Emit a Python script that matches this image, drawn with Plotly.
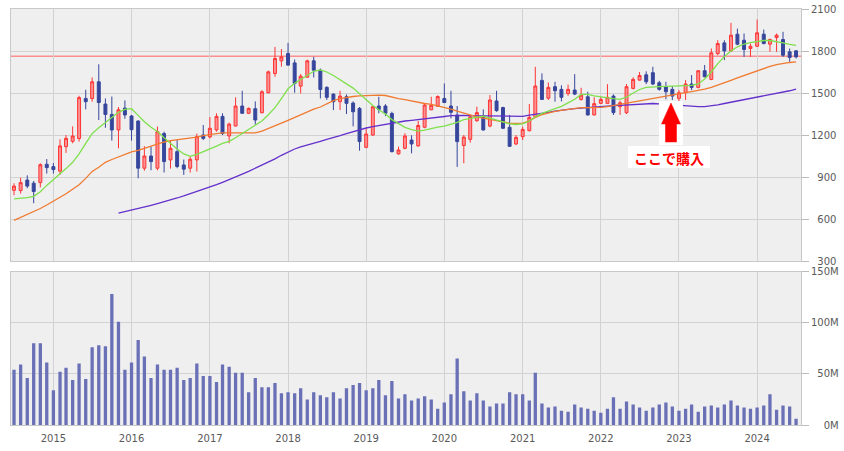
import pandas as pd
import plotly.graph_objects as go

# ---------------- data (monthly, Jul 2014 - Jul 2024) ----------------
DATES = pd.date_range("2014-07-01", periods=121, freq="MS")

OPEN = [805, 803, 878, 856, 860, 991, 974, 942, 1117, 1155, 1175, 1461, 1461, 1580, 1421, 1347, 1236, 1392, 1336, 1300,
        963, 1050, 963, 1210, 1022, 1081, 986, 963, 1022, 1200, 1186, 1236, 1333, 1193, 1264, 1407, 1355, 1388, 1359, 1502,
        1639, 1730, 1782, 1715, 1549, 1613, 1730, 1663, 1540, 1492, 1438, 1473, 1428, 1390, 1112, 1200, 1407, 1407, 1354, 1065,
        1105, 1164, 1122, 1255, 1380, 1405, 1461, 1407, 1343, 1125, 1169, 1302, 1335, 1264, 1443, 1396, 1255, 1136, 1188, 1231,
        1330, 1590, 1463, 1545, 1526, 1497, 1521, 1454, 1473, 1343, 1426, 1426, 1478, 1402, 1359, 1533, 1592, 1630, 1645, 1573,
        1545, 1526, 1462, 1502, 1564, 1540, 1659, 1597, 1782, 1858, 1801, 1920, 1877, 1818, 1834, 1920, 1849, 1896, 1882, 1794,
        1801]
HIGH = [855, 895, 912, 872, 998, 1028, 1000, 1169, 1200, 1262, 1480, 1523, 1611, 1705, 1461, 1475, 1400, 1447, 1343, 1305,
        1120, 1117, 1260, 1224, 1164, 1164, 1025, 1046, 1210, 1271, 1328, 1355, 1355, 1288, 1469, 1516, 1397, 1440, 1520, 1660,
        1829, 1814, 1858, 1739, 1635, 1738, 1758, 1675, 1548, 1497, 1516, 1490, 1440, 1400, 1245, 1407, 1473, 1420, 1366, 1117,
        1212, 1198, 1300, 1428, 1473, 1483, 1568, 1516, 1407, 1200, 1345, 1402, 1383, 1485, 1516, 1402, 1343, 1200, 1260, 1421,
        1687, 1640, 1575, 1580, 1555, 1560, 1635, 1537, 1509, 1470, 1473, 1563, 1490, 1445, 1564, 1612, 1650, 1655, 1687, 1587,
        1580, 1550, 1521, 1592, 1628, 1664, 1700, 1818, 1877, 1877, 2001, 1960, 1925, 1853, 2025, 1953, 1889, 1925, 1937, 1818,
        1806]
LOW = [770, 782, 820, 713, 826, 925, 925, 915, 1072, 1141, 1153, 1383, 1438, 1307, 1252, 1160, 1105, 1316, 1160, 891,
       945, 948, 948, 932, 960, 963, 915, 932, 939, 1164, 1176, 1224, 1200, 1141, 1262, 1352, 1350, 1275, 1355, 1497,
       1616, 1688, 1699, 1502, 1497, 1610, 1611, 1461, 1450, 1378, 1378, 1350, 1262, 1088, 1105, 1193, 1355, 1335, 1076, 1060,
       1098, 1069, 1117, 1248, 1378, 1400, 1428, 1319, 972, 998, 1145, 1295, 1232, 1255, 1366, 1243, 1117, 1128, 1164, 1226,
       1326, 1452, 1450, 1438, 1440, 1480, 1485, 1445, 1340, 1340, 1421, 1424, 1343, 1343, 1350, 1526, 1588, 1563, 1557, 1517,
       1455, 1450, 1438, 1450, 1520, 1533, 1612, 1592, 1770, 1735, 1794, 1842, 1758, 1758, 1830, 1848, 1794, 1794, 1758, 1723,
       1746]
CLOSE = [835, 860, 835, 796, 988, 967, 953, 1122, 1176, 1193, 1467, 1438, 1580, 1432, 1347, 1236, 1380, 1343, 1238, 963,
         1050, 1010, 1224, 1010, 1105, 975, 956, 1027, 1188, 1176, 1248, 1333, 1210, 1278, 1407, 1355, 1390, 1307, 1509, 1651,
         1746, 1758, 1699, 1568, 1620, 1730, 1663, 1525, 1469, 1438, 1478, 1426, 1366, 1153, 1207, 1402, 1383, 1355, 1081, 1093,
         1193, 1136, 1268, 1414, 1412, 1475, 1432, 1362, 1153, 1185, 1330, 1360, 1236, 1450, 1374, 1248, 1119, 1183, 1240, 1326,
         1550, 1454, 1540, 1516, 1469, 1526, 1492, 1485, 1343, 1424, 1454, 1469, 1360, 1430, 1545, 1597, 1625, 1580, 1564, 1526,
         1509, 1478, 1502, 1564, 1540, 1659, 1616, 1787, 1853, 1801, 1913, 1849, 1811, 1834, 1930, 1853, 1882, 1913, 1770, 1754,
         1758]

VOLUME_M = [54, 59, 46, 80, 80, 61, 34, 52, 56, 44, 60, 45, 76, 78, 77, 128, 101, 54, 61, 83,
            67, 46, 59, 54, 54, 56, 44, 46, 60, 48, 48, 42, 59, 57, 51, 51, 32, 46, 37, 37,
            41, 31, 32, 31, 36, 25, 32, 29, 27, 32, 26, 36, 39, 41, 34, 36, 44, 29, 43, 26,
            30, 24, 26, 28, 25, 16, 22, 30, 65, 33, 24, 31, 24, 18, 21, 21, 32, 30, 30, 24,
            51, 21, 17, 18, 14, 13, 20, 17, 16, 14, 12, 16, 27, 16, 23, 20, 17, 14, 17, 20,
            22, 18, 14, 16, 20, 13, 18, 19, 17, 20, 24, 19, 17, 16, 17, 19, 30, 15, 19, 18,
            6]

MA_SHORT = [744, 748, 752, 762, 795, 840, 880, 920, 960, 1005, 1065, 1140, 1210, 1252, 1290, 1330, 1362, 1383, 1388, 1340,
            1295, 1255, 1225, 1180, 1140, 1100, 1065, 1048, 1062, 1080, 1100, 1120, 1140, 1155, 1180, 1210, 1235, 1265, 1300, 1345,
            1395, 1460, 1530, 1570, 1595, 1625, 1655, 1665, 1650, 1625, 1595, 1565, 1535, 1495, 1450, 1410, 1380, 1350, 1310, 1280,
            1255, 1238, 1228, 1235, 1248, 1256, 1264, 1275, 1290, 1310, 1318, 1322, 1335, 1320, 1305, 1290, 1280, 1275, 1280, 1300,
            1330, 1355, 1370, 1385, 1405, 1430, 1455, 1490, 1490, 1480, 1472, 1468, 1460, 1455, 1470, 1500, 1525, 1540, 1545, 1545,
            1548, 1550, 1550, 1552, 1555, 1565, 1600, 1650, 1710, 1760, 1800, 1830, 1850, 1860, 1868, 1875, 1875, 1868, 1858, 1848,
            1840]
MA_MID = [590, 610, 630, 655, 675, 700, 730, 755, 780, 815, 845, 890, 940, 970, 1005, 1025, 1045, 1065, 1080, 1090,
          1105, 1120, 1135, 1150, 1160, 1165, 1170, 1178, 1185, 1195, 1205, 1210, 1215, 1215, 1213, 1212, 1212, 1215, 1228, 1245,
          1265, 1285, 1305, 1325, 1345, 1368, 1385, 1400, 1425, 1445, 1460, 1470, 1475, 1480, 1483, 1485, 1485, 1482, 1470, 1460,
          1452, 1442, 1432, 1425, 1418, 1408, 1395, 1385, 1370, 1355, 1340, 1330, 1320, 1310, 1300, 1290, 1285, 1283, 1285, 1300,
          1325, 1345, 1358, 1368, 1376, 1384, 1390, 1395, 1395, 1395, 1398, 1402, 1410, 1420, 1425, 1433, 1442, 1452, 1462, 1472,
          1482, 1490, 1497, 1503, 1510, 1518, 1527, 1540, 1555, 1572, 1590, 1608, 1625, 1642, 1658, 1674, 1690, 1702, 1712, 1718,
          1723]
MA_LONG = [None] * 16 + [
    642, 652, 663, 675, 687, 698, 710, 722, 735, 750, 765, 780, 800, 815, 830, 845, 862, 880, 900, 920,
    940, 962, 985, 1005, 1030, 1055, 1080, 1100, 1115, 1130, 1142, 1155, 1168, 1180, 1195, 1210, 1225, 1240, 1250, 1260,
    1268, 1278, 1288, 1295, 1300, 1305, 1310, 1312, 1320, 1326, 1332, 1338, 1340, 1340, 1338, 1337, 1336, 1335, 1334, 1333,
    1333, 1333, 1333, 1342, 1350, 1356, 1362, 1370, 1378, 1383, 1388, 1392, 1398, 1402, 1405, 1408, 1410, 1412, 1414, 1418,
    1422, 1425, 1425, 1422, 1418, 1415, 1412, 1408, 1405, 1403, 1403, 1408, 1415, 1425, 1434, 1443, 1452, 1460, 1468, 1476,
    1484, 1494, 1505, 1516, 1527]

REF_PRICE = 1763
PRICE_TICKS = [300, 600, 900, 1200, 1500, 1800, 2100]
VOL_TICKS = [0, 50, 100, 150]
LABEL = "ここで購入"

# ---------------- layout helpers ----------------
W, H = 844, 451
ML, MR, MT, MB = 11, 43, 9, 26
PW, PH = W - ML - MR, H - MT - MB


def fx(px):
    return (px - ML) / PW


def fy(py):
    return (H - MB - py) / PH


FS = "\u2007"  # figure space: digit-wide, keeps labels right-aligned
price_text = [FS * (4 - len(str(v))) + str(v) for v in PRICE_TICKS]
vol_text = [FS * (3 - len(str(v))) + f"{v}M" for v in VOL_TICKS]

GRID = "#d2d2d2"
FRAME = "#c8c8c8"
TICKFONT = dict(family="DejaVu Sans", size=10, color="#5a5a5a")

fig = go.Figure()

fig.add_trace(go.Candlestick(
    x=DATES, open=OPEN, high=HIGH, low=LOW, close=CLOSE,
    xaxis="x", yaxis="y", whiskerwidth=0,
    increasing=dict(line=dict(color="#ff3434", width=1), fillcolor="rgba(255,120,120,0.8)"),
    decreasing=dict(line=dict(color="#36469c", width=1), fillcolor="#36469c"),
    showlegend=False,
))

for vals, col in [(MA_LONG, "#6430cc"), (MA_MID, "#f07a30"), (MA_SHORT, "#7ee04c")]:
    fig.add_trace(go.Scatter(x=DATES, y=vals, mode="lines", xaxis="x", yaxis="y",
                             line=dict(color=col, width=1.3), showlegend=False,
                             connectgaps=False))

fig.add_trace(go.Bar(x=DATES, y=VOLUME_M, xaxis="x2", yaxis="y2",
                     marker=dict(color="#6a70b6", line=dict(width=0)), showlegend=False))

xcommon = dict(type="date", range=["2014-06-17", "2024-07-24"], dtick="M12", tick0="2015-01-01",
               showgrid=True, gridcolor=GRID, gridwidth=1, showline=True, linecolor=FRAME,
               mirror=True, zeroline=False, fixedrange=True, automargin=False)

fig.update_layout(
    width=W, height=H,
    margin=dict(l=ML, r=MR, t=MT, b=MB, pad=0, autoexpand=False),
    paper_bgcolor="white", plot_bgcolor="#efefef",
    boxgap=0.3, bargap=0.45,
    xaxis=dict(**xcommon, anchor="y", showticklabels=False, ticks="",
               rangeslider=dict(visible=False)),
    xaxis2=dict(**xcommon, anchor="y2", matches="x", tickformat="%Y", ticks="",
                ticklabelstandoff=4, tickfont=TICKFONT),
    yaxis=dict(domain=[fy(261), 1], range=[300, 2100], side="right", tickvals=PRICE_TICKS,
               ticktext=price_text, ticks="outside", ticklen=7, tickcolor="#bbbbbb",
               showgrid=True, gridcolor=GRID, showline=True, linecolor=FRAME, mirror=True,
               zeroline=False, tickfont=TICKFONT, anchor="x", automargin=False),
    yaxis2=dict(domain=[0, fy(271.5)], range=[0, 150], side="right", tickvals=VOL_TICKS,
                ticktext=vol_text, ticks="outside", ticklen=7, tickcolor="#bbbbbb",
                showgrid=True, gridcolor=GRID, showline=True, linecolor=FRAME, mirror=True,
                zeroline=False, tickfont=TICKFONT, anchor="x2", automargin=False),
)

# reference price line
fig.add_shape(type="line", xref="paper", x0=0, x1=1, yref="y", y0=REF_PRICE, y1=REF_PRICE,
              line=dict(color="rgba(255,110,110,0.75)", width=1.5), layer="below")

# purchase marker: white backing + red arrow + label
fig.add_shape(type="rect", xref="paper", yref="paper", x0=fx(659), x1=fx(683), y0=fy(145), y1=fy(101),
              fillcolor="white", line=dict(width=0))
fig.add_shape(type="rect", xref="paper", yref="paper", x0=fx(628), x1=fx(710), y0=fy(168), y1=fy(146),
              fillcolor="white", line=dict(width=0))
arrow = [(671, 103), (680.5, 124), (676.5, 124), (676.5, 142), (665.5, 142), (665.5, 124), (661.5, 124)]
path = "M " + " L ".join(f"{fx(a):.5f},{fy(b):.5f}" for a, b in arrow) + " Z"
fig.add_shape(type="path", xref="paper", yref="paper", path=path,
              fillcolor="#ff0000", line=dict(color="#ff0000", width=0.5))
fig.add_annotation(xref="paper", yref="paper", x=fx(669), y=fy(157.5), text=f"<b>{LABEL}</b>",
                   showarrow=False, font=dict(family="Noto Sans CJK JP", size=14, color="#ff0000"),
                   xanchor="center", yanchor="middle")

fig.write_html("out.html")
